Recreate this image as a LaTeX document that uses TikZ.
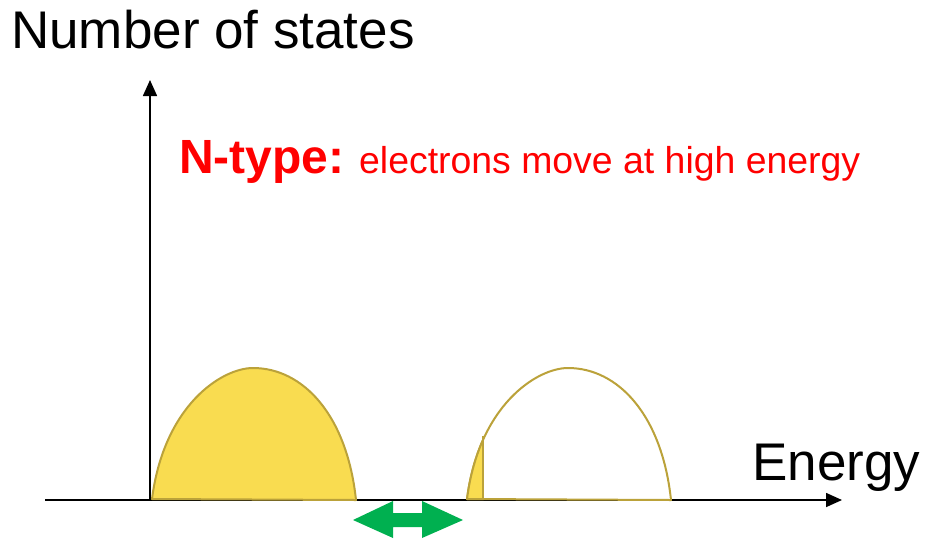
\documentclass[tikz,border=0pt]{standalone}
\usepackage{fontspec}
\setmainfont{Liberation Sans}
\usetikzlibrary{arrows.meta}
\definecolor{lobefill}{HTML}{F9DC50}
\definecolor{lobeline}{HTML}{BBA23A}
\definecolor{arrowgreen}{HTML}{00B050}
\definecolor{nred}{HTML}{FF0000}
\tikzset{
  axis/.style={line width=1.6pt,-{Triangle[length=16pt,width=14pt]}},
  lobe/.style={draw=lobeline,line width=2pt,line join=round},
  bigtext/.style={inner sep=0pt,anchor=base west,font=\fontsize{53}{62}\selectfont},
}
\begin{document}
\begin{tikzpicture}[x=1pt,y=-1pt]
\useasboundingbox (0,0) rectangle (929,539);
% axes
\coordinate (origin) at (150,500);
\coordinate (ytip) at (150,80);
\coordinate (xstart) at (45,500);
\coordinate (xtip) at (842,500);
\draw[axis] (origin) -- (ytip);
\draw[axis] (xstart) -- (xtip);
% left filled lobe
\path[lobe,fill=lobefill] (152,499) .. controls (164,405) and (222,368) .. (253,368)
  .. controls (303,368) and (347,415) .. (356,500) -- cycle;
% right empty lobe
\path[lobe,fill=white] (467,499) .. controls (479,405) and (537,368) .. (568,368)
  .. controls (618,368) and (662,415) .. (671,500) -- cycle;
% small filled sliver
\begin{scope}
  \clip (460,420) rectangle (483.5,510);
  \path[lobe,fill=lobefill] (467,499) .. controls (479,405) and (537,368) .. (568,368)
    .. controls (618,368) and (662,415) .. (671,500) -- cycle;
\end{scope}
\draw[lobe] (483,499) -- (483,436);
\draw[lobe] (467,499) -- (483,499);
% green double arrow
\fill[arrowgreen] (353,520) -- (393,501) -- (393,513) -- (422,513) -- (422,501)
  -- (463,520) -- (422,538) -- (422,527) -- (393,527) -- (393,538) -- cycle;
% texts
\node[bigtext] (ylabel) at (11,48) {Number of states};
\node[bigtext] (xlabel) at (752,480) {Energy};
\node[inner sep=0pt,anchor=base west,text=nred,font=\fontsize{48}{56}\selectfont\bfseries] (ntype) at (179,173) {N-type:};
\node[inner sep=0pt,anchor=base west,text=nred,font=\fontsize{37.4}{45}\selectfont] (desc) at (359,173) {electrons move at high energy};
\end{tikzpicture}
\end{document}
